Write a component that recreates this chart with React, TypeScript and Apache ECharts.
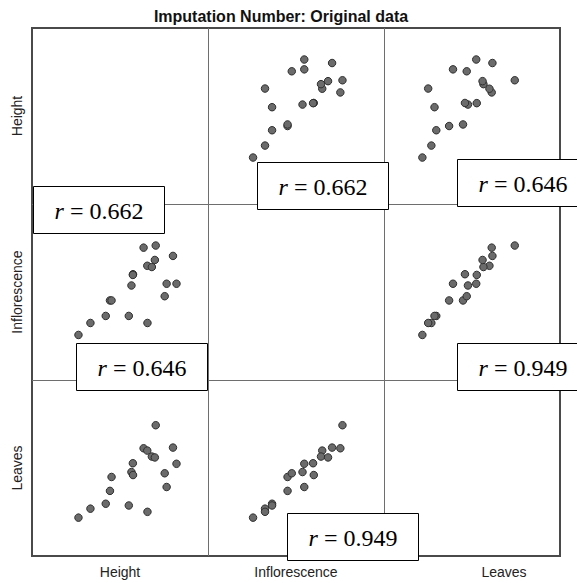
import React, { useEffect, useRef } from "react";
import * as echarts from "echarts";

// Variables of the scatterplot matrix, in row / column order
const variables = ["Height", "Inflorescence", "Leaves"];

// One value per plant for each variable (same plant order in every array)
const height = [26.4, 33.2, 41.9, 44.3, 45.2, 55.0, 56.5, 57.4, 57.3, 63.4, 65.5, 65.6, 68.1, 69.8, 70.3, 75.4, 76.5, 80.1, 82.1];
const inflorescence = [25.6, 32.4, 36.4, 45.2, 45.2, 36.4, 53.7, 60.1, 59.7, 75.2, 64.9, 32.4, 64.2, 68.2, 76.4, 47.6, 54.7, 70.5, 54.7];
const leaves = [21.8, 26.9, 29.7, 37.0, 44.9, 28.7, 47.7, 46.0, 52.7, 61.2, 59.9, 25.1, 56.5, 56.0, 74.3, 47.0, 39.2, 61.6, 52.4];

// Pearson correlations for each variable pair
const pairA = [0, 0, 1];
const pairB = [1, 2, 2];
const pairR = [0.662, 0.646, 0.949];

const title = "Imputation Number: Original data";

// Layout of the matrix
const FRAME_LEFT = 32;
const FRAME_TOP = 28;
const CELL = 176;

// Horizontal centres of the column labels under the matrix
const bottomLabelX = [120, 296, 504];

// Where each correlation box sits: [pair index, left, top]
const boxPlacement: [number, number, number][] = [
  [0, 33, 186],
  [0, 257, 162],
  [1, 457, 159],
  [1, 76, 343],
  [2, 457, 343],
  [2, 287, 513],
];
const BOX_W = 131;
const BOX_H = 47;

const SERIF = '"Liberation Serif", "Times New Roman", serif';

export default function App() {
  const ref = useRef<HTMLDivElement>(null);

  useEffect(() => {
    if (!ref.current) return;
    const chart = echarts.init(ref.current, null, { renderer: "svg" });
    const columns = [height, inflorescence, leaves];

    const grids: any[] = [];
    const xAxes: any[] = [];
    const yAxes: any[] = [];
    const series: any[] = [];
    const nameStyle = { fontFamily: "Liberation Sans", fontSize: 14, color: "#222" };

    for (let r = 0; r < 3; r++) {
      for (let c = 0; c < 3; c++) {
        const idx = r * 3 + c;
        grids.push({
          left: FRAME_LEFT + c * CELL,
          top: FRAME_TOP + r * CELL,
          width: CELL,
          height: CELL,
          show: false,
        });
        xAxes.push({
          gridIndex: idx,
          type: "value",
          min: 0,
          max: 100,
          axisLine: { show: false },
          axisTick: { show: false },
          axisLabel: { show: false },
          splitLine: { show: false },
        });
        yAxes.push({
          gridIndex: idx,
          type: "value",
          min: 0,
          max: 100,
          name: c === 0 ? variables[r] : "",
          nameLocation: "middle",
          nameGap: 8,
          nameRotate: 90,
          nameTextStyle: nameStyle,
          axisLine: { show: false },
          axisTick: { show: false },
          axisLabel: { show: false },
          splitLine: { show: false },
        });
        if (r !== c) {
          const xs = columns[c];
          const ys = columns[r];
          series.push({
            type: "scatter",
            xAxisIndex: idx,
            yAxisIndex: idx,
            symbol: "circle",
            symbolSize: 7.5,
            itemStyle: { color: "#6b6b6b", borderColor: "#2f2f2f", borderWidth: 1, opacity: 1 },
            data: xs.map((x, i) => [x, ys[i]]),
            z: 3,
          });
        }
      }
    }

    const graphic: any[] = [];
    // Outer frame
    graphic.push({
      type: "rect",
      shape: { x: FRAME_LEFT, y: FRAME_TOP, width: CELL * 3, height: CELL * 3 },
      style: { fill: "none", stroke: "#4a4a4a", lineWidth: 2 },
      z: 1,
    });
    // Cell dividers
    for (let k = 1; k < 3; k++) {
      const p = k * CELL;
      graphic.push({
        type: "line",
        shape: { x1: FRAME_LEFT + p + 0.5, y1: FRAME_TOP, x2: FRAME_LEFT + p + 0.5, y2: FRAME_TOP + 3 * CELL },
        style: { stroke: "#6e6e6e", lineWidth: 1 },
        z: 1,
      });
      graphic.push({
        type: "line",
        shape: { x1: FRAME_LEFT, y1: FRAME_TOP + p + 0.5, x2: FRAME_LEFT + 3 * CELL, y2: FRAME_TOP + p + 0.5 },
        style: { stroke: "#6e6e6e", lineWidth: 1 },
        z: 1,
      });
    }
    // Column labels under the matrix
    variables.forEach((v, c) => {
      graphic.push({
        type: "text",
        x: bottomLabelX[c],
        y: FRAME_TOP + 3 * CELL + 16,
        style: {
          text: v,
          font: '14px "Liberation Sans", Arial, sans-serif',
          fill: "#222",
          align: "center",
          verticalAlign: "middle",
        },
        z: 10,
      });
    });
    // Title
    graphic.push({
      type: "text",
      x: 281,
      y: 16,
      style: {
        text: title,
        font: 'bold 16px "Liberation Sans", Arial, sans-serif',
        fill: "#111",
        align: "center",
        verticalAlign: "middle",
      },
      z: 10,
    });
    // Correlation boxes
    boxPlacement.forEach(([p, left, top]) => {
      graphic.push({
        type: "group",
        x: left,
        y: top,
        z: 50,
        children: [
          {
            type: "rect",
            shape: { x: 0.5, y: 0.5, width: BOX_W, height: BOX_H },
            style: { fill: "#fff", stroke: "#000", lineWidth: 1 },
            z: 50,
          },
          {
            type: "text",
            x: BOX_W / 2 + 0.5,
            y: BOX_H / 2 + 1.5,
            z: 51,
            style: {
              text: "{i|r}{n| = " + pairR[p].toFixed(3) + "}",
              font: "24px " + SERIF,
              fill: "#000",
              align: "center",
              verticalAlign: "middle",
              rich: {
                i: { fontFamily: SERIF, fontSize: 24, fontStyle: "italic", fill: "#000" },
                n: { fontFamily: SERIF, fontSize: 24, fill: "#000" },
              },
            },
          },
        ],
      });
    });

    chart.setOption({
      animation: false,
      backgroundColor: "#fff",
      grid: grids,
      xAxis: xAxes,
      yAxis: yAxes,
      series,
      graphic,
    });
    return () => chart.dispose();
  }, []);

  return (
    <div
      ref={ref}
      style={{ position: "absolute", left: 0, top: 0, width: 577, height: 583 }}
    />
  );
}
